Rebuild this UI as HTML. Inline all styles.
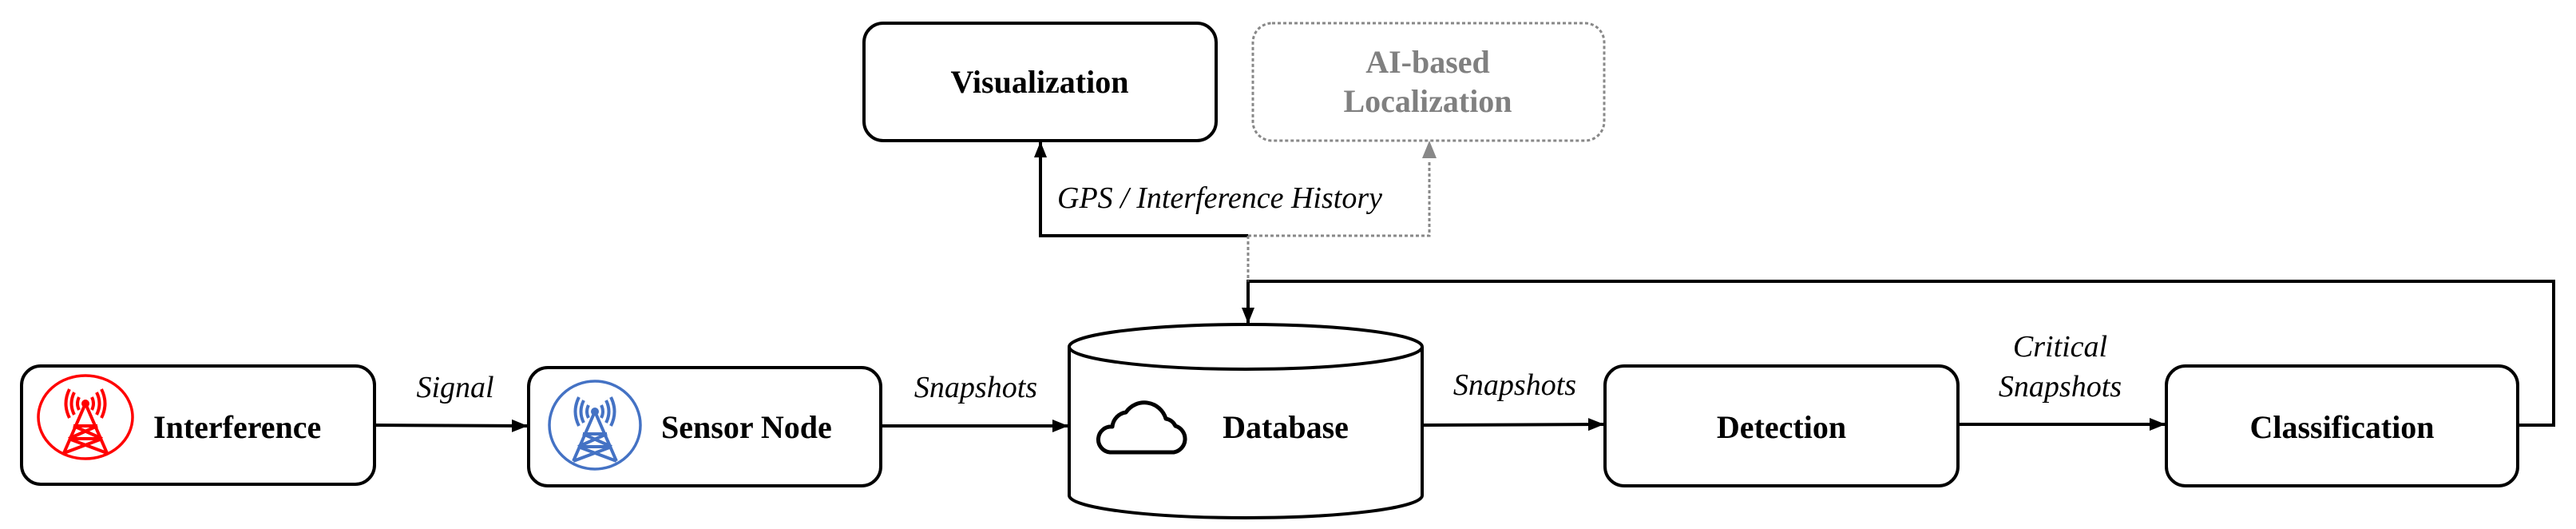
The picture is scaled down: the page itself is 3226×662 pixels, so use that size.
<!DOCTYPE html>
<html><head><meta charset="utf-8"><style>
html,body{margin:0;padding:0;background:#fff;}
svg{display:block;}
text{font-family:"Liberation Serif",serif;}
.b{font-weight:bold;font-size:40px;}
.i{font-style:italic;font-size:38px;}
</style></head><body>
<svg width="3226" height="662" viewBox="0 0 3226 662" xmlns="http://www.w3.org/2000/svg">
<defs>
<marker id="A" markerWidth="20" markerHeight="20" refX="19" refY="10" orient="auto" markerUnits="userSpaceOnUse" viewBox="0 0 20 20"><path d="M0,2 L20,10 L0,18 z" fill="#000"/></marker>
</defs>
<g fill="none" stroke="#000" stroke-width="4">
<rect x="27" y="458" width="442" height="148" rx="24"/>
<rect x="662" y="460" width="441" height="148" rx="24"/>
<rect x="2010" y="458" width="442" height="150" rx="24"/>
<rect x="2713" y="458" width="440" height="150" rx="24"/>
<rect x="1082" y="29" width="441" height="147" rx="24"/>
<path d="M1339,434 L1339,620 A221,28 0 0 0 1781,620 L1781,434"/>
<ellipse cx="1560" cy="434" rx="221" ry="28"/>
</g>
<rect x="1569" y="29" width="440" height="147" rx="24" fill="none" stroke="#888" stroke-width="3" stroke-dasharray="4,3"/>
<g stroke="#000" stroke-width="4" fill="none">
<line x1="469" y1="532" x2="660" y2="533" marker-end="url(#A)"/>
<line x1="1103" y1="533" x2="1337" y2="533" marker-end="url(#A)"/>
<line x1="1781" y1="532" x2="2008" y2="531" marker-end="url(#A)"/>
<line x1="2452" y1="531" x2="2711" y2="531" marker-end="url(#A)"/>
<polyline points="1563,295 1303,295 1303,178" marker-end="url(#A)"/>
<polyline points="3153,532 3198,532 3198,352 1563,352 1563,404" marker-end="url(#A)"/>
</g>
<g stroke="#888" stroke-width="3" fill="none" stroke-dasharray="4,3">
<polyline points="1563,295 1790,295 1790,200"/>
<line x1="1563" y1="295" x2="1563" y2="352"/>
</g>
<path d="M1781,198 L1790,176 L1799,198 z" fill="#888"/>
<text class="b" x="192" y="548">Interference</text>
<text class="b" x="828" y="548">Sensor Node</text>
<text class="b" x="1610" y="548" text-anchor="middle">Database</text>
<text class="b" x="2231" y="548" text-anchor="middle">Detection</text>
<text class="b" x="2933" y="548" text-anchor="middle">Classification</text>
<text class="b" x="1302" y="116" text-anchor="middle">Visualization</text>
<text class="b" x="1788" y="91" text-anchor="middle" fill="#808080">AI-based</text>
<text class="b" x="1788" y="140" text-anchor="middle" fill="#808080">Localization</text>
<text class="i" x="570" y="497" text-anchor="middle">Signal</text>
<text class="i" x="1222" y="497" text-anchor="middle">Snapshots</text>
<text class="i" x="1897" y="494" text-anchor="middle">Snapshots</text>
<text class="i" x="2580" y="446" text-anchor="middle">Critical</text>
<text class="i" x="2580" y="496" text-anchor="middle">Snapshots</text>
<text class="i" x="1324" y="260">GPS / Interference History</text>
<g fill="none" stroke="#f00" stroke-width="3.5">
<ellipse cx="107" cy="522" rx="59" ry="52"/>
<g stroke-width="4">
<path d="M107,505 L80,567 M107,505 L134,567 M92,533 L122,533 M86,549 L128,549 M92,533 L128,549 M122,533 L86,549 M86,549 L134,567 M128,549 L80,567"/>
<circle cx="107" cy="505" r="3" fill="#f00"/>
<path d="M99,497 Q95,505 99,513 M115,497 Q119,505 115,513 M93,491 Q86,505 93,519 M121,491 Q128,505 121,519 M87,487 Q78,505 87,523 M127,487 Q136,505 127,523"/>
</g></g>
<g fill="none" stroke="#4472c4" stroke-width="3.5" transform="translate(638,10)">
<ellipse cx="107" cy="522" rx="57" ry="55"/>
<g stroke-width="4">
<path d="M107,505 L80,567 M107,505 L134,567 M92,533 L122,533 M86,549 L128,549 M92,533 L128,549 M122,533 L86,549 M86,549 L134,567 M128,549 L80,567"/>
<circle cx="107" cy="505" r="3" fill="#4472c4"/>
<path d="M99,497 Q95,505 99,513 M115,497 Q119,505 115,513 M93,491 Q86,505 93,519 M121,491 Q128,505 121,519 M87,487 Q78,505 87,523 M127,487 Q136,505 127,523"/>
</g></g>
<path d="M1390,566 L1470,566 A17,17 0 0 0 1472,533 A16,16 0 0 0 1460,524 A28,28 0 0 0 1410,516 A20,20 0 0 0 1393,534 A16,16 0 0 0 1390,566 Z" fill="none" stroke="#000" stroke-width="5" stroke-linejoin="round"/>
</svg>
</body></html>
